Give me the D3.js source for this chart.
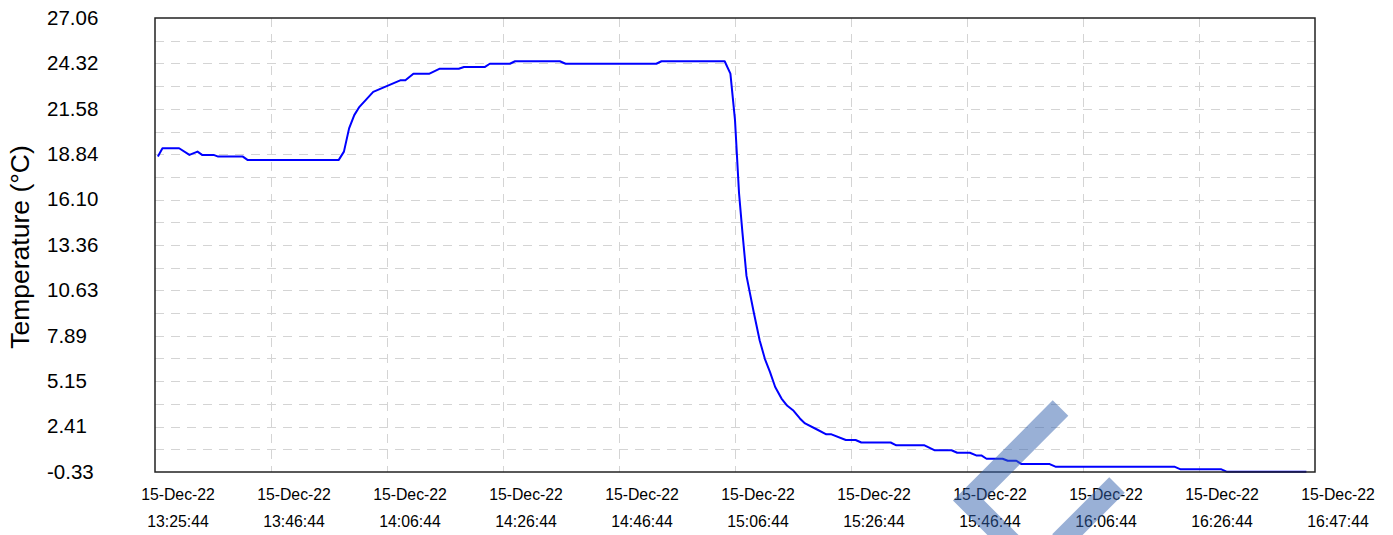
<!DOCTYPE html>
<html lang="en">
<head>
    <meta charset="UTF-8">
    <title>Temperature log</title>
    <script src="https://d3js.org/d3.v7.min.js"></script>
    <style>
        body { margin: 0; background: #fff; }
        text { font-family: "Liberation Sans", Arial, sans-serif; fill: #000; }
        .grid line { stroke: #d4d4d4; stroke-width: 1; stroke-dasharray: 9,7; }
    </style>
</head>
<body>
<div id="chart"></div>

<script>
    // Chart data (minutes after 15-Dec-22 13:25:44, temperature in °C)
    const minutes = [0.5, 1.3, 4.2, 6.0, 7.4, 8.2, 10.2, 11.0, 15.3, 16.1, 32.0, 32.9, 33.8, 34.7, 35.6, 38.0,
        42.7, 43.6, 45.0, 47.8, 49.6, 52.9, 53.8, 57.4, 58.3, 61.8, 62.7, 70.5, 71.5, 87.3, 88.2, 99.2,
        100.2, 101.0, 101.7, 102.3, 103.0, 104.3, 105.3, 106.2, 107.1, 108.0, 109.1, 110.0, 111.1, 112.3,
        113.2, 115.2, 116.9, 117.8, 120.3, 122.0, 123.0, 128.1, 129.1, 134.0, 135.8, 138.7, 139.7, 141.9,
        143.0, 143.9, 144.8, 147.6, 148.5, 150.0, 150.9, 155.8, 156.8, 177.5, 178.6, 185.7, 186.6, 200.5];
    const temps = [18.7, 19.2, 19.2, 18.8, 19.0, 18.8, 18.8, 18.7, 18.7, 18.5, 18.5, 19.0, 20.4, 21.2, 21.7, 22.6,
        23.3, 23.3, 23.7, 23.7, 24.0, 24.0, 24.1, 24.1, 24.3, 24.3, 24.45, 24.45, 24.3, 24.3, 24.45, 24.45,
        23.7, 20.9, 16.5, 14.1, 11.5, 9.25, 7.6, 6.5, 5.7, 4.8, 4.1, 3.7, 3.4, 2.9,
        2.6, 2.25, 1.94, 1.94, 1.6, 1.6, 1.45, 1.45, 1.28, 1.28, 0.98, 0.98, 0.83, 0.83,
        0.67, 0.67, 0.47, 0.47, 0.35, 0.35, 0.15, 0.15, -0.01, -0.01, -0.17, -0.17, -0.31, -0.31];

    // Axis labels
    const yTickLabels = ["-0.33", "2.41", "5.15", "7.89", "10.63", "13.36", "16.10", "18.84", "21.58", "24.32", "27.06"];
    const xDateLabels = ["15-Dec-22", "15-Dec-22", "15-Dec-22", "15-Dec-22", "15-Dec-22", "15-Dec-22",
        "15-Dec-22", "15-Dec-22", "15-Dec-22", "15-Dec-22", "15-Dec-22"];
    const xTimeLabels = ["13:25:44", "13:46:44", "14:06:44", "14:26:44", "14:46:44", "15:06:44",
        "15:26:44", "15:46:44", "16:06:44", "16:26:44", "16:47:44"];
    const yTitle = "Temperature (°C)";

    const width = 1393;
    const height = 535;
    const margin = { top: 18, right: 78, bottom: 63, left: 155 };

    const svg = d3.select("#chart").append("svg")
        .attr("width", width)
        .attr("height", height);

    svg.append("rect").attr("width", width).attr("height", height).attr("fill", "#fff");

    const start = new Date(2022, 11, 15, 13, 25, 44);
    const spanMin = 202;
    const toDate = m => new Date(start.getTime() + m * 60000);

    const x = d3.scaleTime()
        .domain([start, toDate(spanMin)])
        .range([margin.left, width - margin.right]);

    const yValues = yTickLabels.map(Number);
    const y = d3.scaleLinear()
        .domain([yValues[0], yValues[yValues.length - 1]])
        .range([height - margin.bottom, margin.top]);

    const xTicks = d3.range(xTimeLabels.length).map(i => toDate(i * spanMin / (xTimeLabels.length - 1)));

    // horizontal grid: every half step between labelled values
    const yGrid = [];
    yValues.forEach((v, i) => {
        if (i > 0) yGrid.push((yValues[i - 1] + v) / 2);
        if (i > 0 && i < yValues.length - 1) yGrid.push(v);
    });

    const grid = svg.append("g").attr("class", "grid");
    grid.selectAll(".h").data(yGrid).enter().append("line")
        .attr("x1", margin.left).attr("x2", width - margin.right)
        .attr("y1", d => Math.round(y(d)) + 0.5).attr("y2", d => Math.round(y(d)) + 0.5);
    grid.selectAll(".v").data(xTicks.slice(1, -1)).enter().append("line")
        .attr("y1", margin.top).attr("y2", height - margin.bottom)
        .attr("x1", d => Math.round(x(d)) + 0.5).attr("x2", d => Math.round(x(d)) + 0.5);

    // the temperature line
    const line = d3.line()
        .x(d => x(toDate(d[0])))
        .y(d => y(d[1]));

    svg.append("path")
        .datum(minutes.map((m, i) => [m, temps[i]]))
        .attr("fill", "none")
        .attr("stroke", "#0000ff")
        .attr("stroke-width", 2)
        .attr("stroke-linejoin", "round")
        .attr("d", line);

    // plot frame
    svg.append("rect")
        .attr("x", margin.left).attr("y", margin.top)
        .attr("width", width - margin.left - margin.right)
        .attr("height", height - margin.top - margin.bottom)
        .attr("fill", "none")
        .attr("stroke", "#222")
        .attr("stroke-width", 1.5);

    // y tick labels
    svg.append("g").selectAll("text")
        .data(yTickLabels).enter().append("text")
        .attr("x", 47)
        .attr("y", d => y(+d))
        .attr("dy", "0.33em")
        .attr("font-size", "20.5px")
        .text(d => d);

    // x tick labels, two rows, shifted right of their grid lines
    const xl = svg.append("g").selectAll("g")
        .data(xTicks).enter().append("g")
        .attr("transform", d => `translate(${x(d) + 23},0)`);
    xl.append("text")
        .attr("y", 500)
        .attr("text-anchor", "middle")
        .attr("font-size", "15.8px")
        .text((d, i) => xDateLabels[i]);
    xl.append("text")
        .attr("y", 526.5)
        .attr("text-anchor", "middle")
        .attr("font-size", "15.8px")
        .text((d, i) => xTimeLabels[i]);

    // y axis title
    svg.append("text")
        .attr("transform", `translate(29,${(margin.top + height - margin.bottom) / 2 + 2}) rotate(-90)`)
        .attr("text-anchor", "middle")
        .attr("font-size", "26.5px")
        .text(yTitle);

    // faint watermark strokes over the lower right
    const mark = svg.append("g")
        .attr("fill", "none")
        .attr("stroke", "#3361ad")
        .attr("stroke-opacity", 0.5)
        .attr("stroke-width", 22)
        .attr("stroke-linecap", "butt")
        .attr("stroke-linejoin", "miter");
    mark.append("path").attr("d", "M1060.5,408 L968.5,500.5 L1020,552");
    mark.append("path").attr("d", "M1117,485 L1060,542");
</script>
</body>
</html>
